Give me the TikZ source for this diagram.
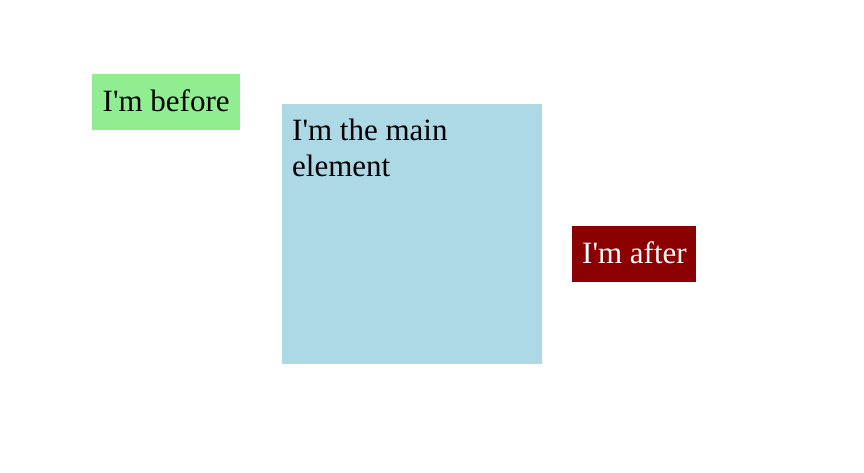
\documentclass[tikz,border=0pt]{standalone}
\usepackage{fontspec}
\setmainfont{Liberation Serif}
\definecolor{boxgreen}{RGB}{144,238,144}
\definecolor{boxblue}{RGB}{173,216,230}
\definecolor{boxred}{RGB}{139,0,0}
\tikzset{
  boxshape/.style={draw=none, inner sep=0pt, anchor=north west},
  lbl/.style={inner sep=0pt, anchor=base west, font=\fontsize{31}{36}\selectfont},
}
\begin{document}
\begin{tikzpicture}[x=1pt,y=-1pt]
\useasboundingbox[fill=white] (0,0) rectangle (864,472);
\node[boxshape, fill=boxgreen, minimum width=148pt, minimum height=56pt] (before) at (92,74) {};
\node[boxshape, fill=boxblue, minimum width=260pt, minimum height=260pt] (main) at (282,104) {};
\node[boxshape, fill=boxred, minimum width=124pt, minimum height=56pt] (after) at (572,226) {};
\node[lbl] (beforetext) at (102.5,111.7) {I\textquotesingle m before};
\node[lbl] (maintext1) at (292,140.7) {I\textquotesingle m the main};
\node[lbl] (maintext2) at (292,176.7) {element};
\node[lbl, text=white] (aftertext) at (582,263.7) {I\textquotesingle m after};
\end{tikzpicture}
\end{document}
